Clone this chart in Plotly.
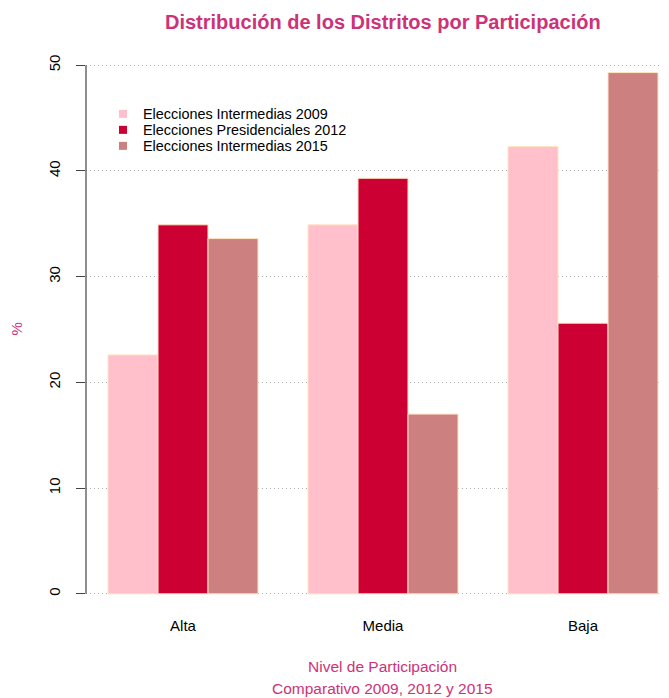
import plotly.graph_objects as go

categories = ["Alta", "Media", "Baja"]
series_names = ["Elecciones Intermedias 2009", "Elecciones Presidenciales 2012", "Elecciones Intermedias 2015"]
values_2009 = [22.6, 34.9, 42.3]
values_2012 = [34.9, 39.3, 25.6]
values_2015 = [33.6, 17.0, 49.3]
colors = ["#FFC0CB", "#CC0033", "#CC8080"]
y_ticks = [0, 10, 20, 30, 40, 50]

FONT = "Liberation Sans, Arial, sans-serif"
PINK = "#CD3278"

W, H = 661, 690
L, R, T, B = 78, 0, 36, 83
plot_h = H - T - B

fig = go.Figure()
legend_ids = ["legend", "legend2", "legend3"]
for name, vals, col, lg in zip(series_names, [values_2009, values_2012, values_2015], colors, legend_ids):
    fig.add_trace(go.Bar(
        x=categories, y=vals, name=name, showlegend=False,
        marker=dict(color=col, line=dict(color="#FFE4C4", width=1)),
    ))
    # legend entry (small square key)
    fig.add_trace(go.Scatter(
        x=[None], y=[None], name=name, mode="markers", legend=lg,
        marker=dict(symbol="square", size=8, color=col),
    ))

legend_rows_px = [106, 122, 138]
leg_common = dict(x=(95 - L) / 583, xanchor="left", yanchor="middle",
                  bgcolor="rgba(0,0,0,0)", font=dict(size=14.4, color="#000000"),
                  itemwidth=30)
legends = {}
for lg, yp in zip(legend_ids, legend_rows_px):
    legends[lg] = dict(leg_common, y=1 - (yp - T) / plot_h)

fig.update_layout(
    width=W, height=H,
    paper_bgcolor="white", plot_bgcolor="white",
    margin=dict(l=L, r=R, t=T, b=B, pad=0),
    barmode="group", bargap=0.25, bargroupgap=0,
    font=dict(family=FONT, size=15, color="#000000"),
    showlegend=True,
    xaxis=dict(range=[-0.485, 2.43], showline=False, showgrid=False, ticks="",
               tickfont=dict(size=15, color="#000000"), ticklabelstandoff=0,
               zeroline=False),
    yaxis=dict(range=[-2, 52], tickvals=y_ticks, ticktext=[str(v) for v in y_ticks],
               showline=False, ticks="outside", ticklen=9, tickwidth=1.2, tickcolor="#444444",
               tickangle=-90, tickfont=dict(size=15, color="#000000"),
               ticklabelstandoff=10,
               showgrid=True, gridcolor="#AAAAAA", griddash="1px,3px", gridwidth=1,
               zeroline=False),
    annotations=[
        dict(text="<b>Distribución de los Distritos por Participación</b>", xref="paper", yref="paper",
             x=0.5086, y=1, yshift=22, xanchor="center", yanchor="middle", showarrow=False,
             font=dict(size=20, color=PINK)),
        dict(text="%", xref="paper", yref="paper", x=0, xshift=-70, y=0.5, yanchor="middle",
             xanchor="center", textangle=-90, showarrow=False, font=dict(size=15, color=PINK)),
        dict(text="Nivel de Participación", xref="paper", yref="paper", x=0.5086, y=0,
             yshift=-51, xanchor="center", yanchor="middle", showarrow=False,
             font=dict(size=15.5, color=PINK)),
        dict(text="Comparativo 2009, 2012 y 2015", xref="paper", yref="paper", x=0.5086, y=0,
             yshift=-73, xanchor="center", yanchor="middle", showarrow=False,
             font=dict(size=15.5, color=PINK)),
    ],
    shapes=[dict(type="line", xref="paper", yref="y", x0=0, x1=0, y0=0, y1=50,
                 line=dict(color="#444444", width=1.2))],
    **legends,
)

fig.write_html("out.html")
